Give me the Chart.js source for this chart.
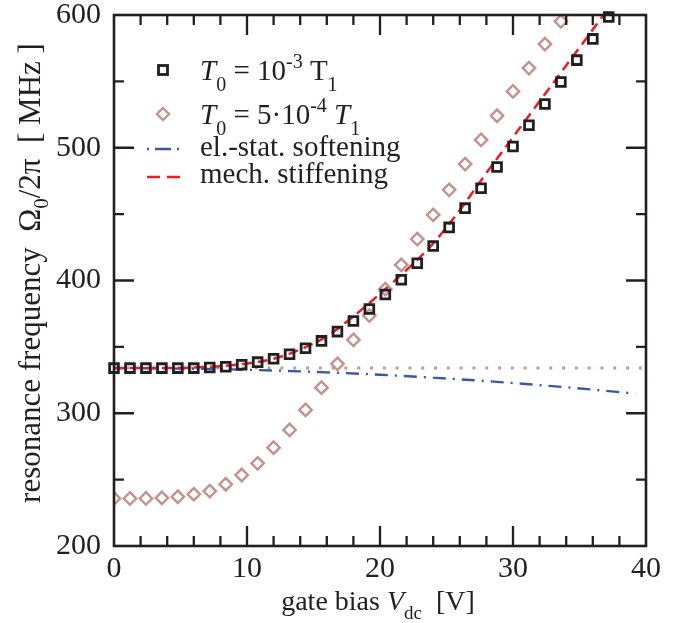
<!DOCTYPE html>
<html>
<head>
<meta charset="utf-8">
<script src="https://cdn.jsdelivr.net/npm/chart.js@4"></script>
<style>
  html, body { margin: 0; padding: 0; background: #fff; }
</style>
</head>
<body>
<canvas id="freqChart" width="677" height="623"></canvas>
<script>
// gate bias values (V) where the symbols were computed
var vdcPoints = [0, 1.2, 2.4, 3.6, 4.8, 6.0, 7.2, 8.4, 9.6, 10.8, 12.0, 13.2, 14.4, 15.6, 16.8, 18.0,
  19.2, 20.4, 21.6, 22.8, 24.0, 25.2, 26.4, 27.6, 28.8, 30.0, 31.2, 32.4, 33.6, 34.8, 36.0, 37.2];

// T0 = 1e-3 T1 (squares), MHz
var freqT1e3 = [334, 334, 334, 334, 334, 334, 334.5, 335, 336.5, 338.5, 341, 344.5, 349, 354.5, 361.5, 369.5,
  378.5, 389.5, 400.5, 413, 426, 440, 454.5, 469.5, 485.5, 501, 517, 533, 549.5, 566, 582, 598.5];

// T0 = 5e-4 T1 (diamonds), MHz
var freqT5e4 = [235.8, 235.8, 235.8, 236.3, 237.1, 239, 241.4, 246.5, 253.5, 262.3, 274.1, 287.4, 302.5, 319.3,
  337.2, 355.3, 373.6, 393.5, 411.8, 431.2, 449.5, 468.3, 487.7, 506, 524.1, 542.4, 560, 578.1, 595.2];

// dotted reference level
var flatV = [0, 40];
var flatF = [334, 334];

// el.-stat. softening
var softV = [0, 4, 8, 12, 16, 20, 24, 28, 32, 36, 39.2];
var softF = [334, 333.8, 333.2, 332.2, 330.8, 329, 326.8, 324.2, 321.2, 317.8, 314.8];

// mech. stiffening
var stiffV = [0, 2, 4, 6, 8, 10, 12, 14, 16, 18, 20, 22, 24, 26, 28, 30, 32, 34, 36, 36.8];
var stiffF = [334, 334, 334, 334.5, 335.5, 337.5, 341, 348, 358, 373, 390, 408, 428, 453, 481, 508, 535, 562, 589, 600];

var xTicks = [0, 10, 20, 30, 40];
var yTicks = [200, 300, 400, 500, 600];

var ink = "#231f20";
var rose = "#c4918d";
var serif = "'Liberation Serif', 'Times New Roman', serif";

function toXY(xs, ys) {
  return ys.map(function(y, i) { return { x: xs[i], y: y }; });
}

function drawRuns(ctx, x, y, runs) {
  runs.forEach(function(r) {
    ctx.font = (r.italic ? "italic " : "") + r.size + "px " + serif;
    ctx.fillText(r.text, x, y + (r.dy || 0));
    x += ctx.measureText(r.text).width;
  });
  return x;
}

function runsWidth(ctx, runs) {
  var w = 0;
  runs.forEach(function(r) {
    ctx.font = (r.italic ? "italic " : "") + r.size + "px " + serif;
    w += ctx.measureText(r.text).width;
  });
  return w;
}

// frame, inward ticks, axis titles and legend
var decorPlugin = {
  id: "decor",
  afterDraw: function(chart) {
    var ctx = chart.ctx;
    var a = chart.chartArea;
    var xs = chart.scales.x, ys = chart.scales.y;
    ctx.save();
    ctx.strokeStyle = ink;
    ctx.lineWidth = 2.6;
    ctx.strokeRect(a.left, a.top, a.right - a.left, a.bottom - a.top);

    ctx.lineWidth = 2.3;
    ctx.beginPath();
    for (var v = xs.min + 2; v < xs.max; v += 2) {
      var len = v % 10 === 0 ? 20 : 10;
      var px = xs.getPixelForValue(v);
      ctx.moveTo(px, a.bottom); ctx.lineTo(px, a.bottom - len);
      ctx.moveTo(px, a.top); ctx.lineTo(px, a.top + len);
    }
    for (var w = ys.min + 50; w < ys.max; w += 50) {
      var l2 = w % 100 === 0 ? 20 : 10;
      var py = ys.getPixelForValue(w);
      ctx.moveTo(a.left, py); ctx.lineTo(a.left + l2, py);
      ctx.moveTo(a.right, py); ctx.lineTo(a.right - l2, py);
    }
    ctx.stroke();

    ctx.fillStyle = ink;
    ctx.textBaseline = "alphabetic";
    ctx.textAlign = "left";

    // x title
    var xRuns = [
      { text: "gate bias ", size: 28 },
      { text: "V", size: 28, italic: true },
      { text: "dc", size: 19, dy: 9 },
      { text: "  [V]", size: 28 }
    ];
    drawRuns(ctx, 378 - runsWidth(ctx, xRuns) / 2, 610, xRuns);

    // y title
    var yRuns = [
      { text: "resonance frequency  ", size: 31 },
      { text: "\u03a9", size: 31 },
      { text: "0", size: 21, dy: 8 },
      { text: "/2\u03c0  [ MHz ]", size: 31 }
    ];
    ctx.save();
    ctx.translate(40, 273);
    ctx.rotate(-Math.PI / 2);
    drawRuns(ctx, -runsWidth(ctx, yRuns) / 2, 0, yRuns);
    ctx.restore();

    // legend
    ctx.lineWidth = 2.8;
    ctx.strokeStyle = ink;
    ctx.strokeRect(158.5, 65.5, 9, 9);
    ctx.strokeStyle = rose;
    ctx.lineWidth = 2.4;
    ctx.beginPath();
    ctx.moveTo(163, 108); ctx.lineTo(169, 114); ctx.lineTo(163, 120); ctx.lineTo(157, 114); ctx.closePath();
    ctx.stroke();

    ctx.lineWidth = 2.5;
    ctx.strokeStyle = "#3b58a6";
    ctx.setLineDash([2, 6, 16, 6, 2, 50]);
    ctx.beginPath(); ctx.moveTo(147, 149); ctx.lineTo(181, 149); ctx.stroke();
    ctx.strokeStyle = "#ed1c24";
    ctx.setLineDash([13, 7, 13, 50]);
    ctx.beginPath(); ctx.moveTo(147, 177); ctx.lineTo(181, 177); ctx.stroke();
    ctx.setLineDash([]);

    drawRuns(ctx, 200, 80, [
      { text: "T", size: 29, italic: true },
      { text: "0", size: 20, dy: 11 },
      { text: " = 10", size: 29 },
      { text: "-3", size: 20, dy: -12 },
      { text: " T", size: 29 },
      { text: "1", size: 20, dy: 11 }
    ]);
    drawRuns(ctx, 200, 124, [
      { text: "T", size: 29, italic: true },
      { text: "0", size: 20, dy: 11 },
      { text: " = 5\u00b710", size: 29 },
      { text: "-4", size: 20, dy: -12 },
      { text: " ", size: 29 },
      { text: "T", size: 29, italic: true },
      { text: "1", size: 20, dy: 11 }
    ]);
    drawRuns(ctx, 200, 156, [{ text: "el.-stat. softening", size: 29 }]);
    drawRuns(ctx, 200, 183, [{ text: "mech. stiffening", size: 29 }]);
    ctx.restore();
  }
};

var ctx = document.getElementById("freqChart").getContext("2d");

var freqChart = new Chart(ctx, {
  type: "scatter",
  data: {
    datasets: [
      {
        label: "T0 = 1e-3 T1",
        data: toXY(vdcPoints, freqT1e3),
        pointStyle: "rect",
        pointRadius: 6.2,
        borderColor: ink,
        borderWidth: 2.8,
        backgroundColor: "rgba(0,0,0,0)",
        clip: false,
        order: 1
      },
      {
        label: "T0 = 5e-4 T1",
        data: toXY(vdcPoints, freqT5e4),
        pointStyle: "rectRot",
        pointRadius: 6.2,
        borderColor: rose,
        borderWidth: 2.4,
        backgroundColor: "rgba(0,0,0,0)",
        order: 2
      },
      {
        label: "flat",
        data: toXY(flatV, flatF),
        showLine: true,
        pointRadius: 0,
        borderColor: "#c49a98",
        borderWidth: 3,
        borderDash: [3, 9.8],
        borderCapStyle: "butt",
        order: 5
      },
      {
        label: "el.-stat. softening",
        data: toXY(softV, softF),
        showLine: true,
        pointRadius: 0,
        borderColor: "#3b58a6",
        borderWidth: 2.4,
        borderDash: [13, 7, 2, 7],
        cubicInterpolationMode: "monotone",
        order: 4
      },
      {
        label: "mech. stiffening",
        data: toXY(stiffV, stiffF),
        showLine: true,
        pointRadius: 0,
        borderColor: "#ed1c24",
        borderWidth: 2.5,
        borderDash: [10, 6],
        cubicInterpolationMode: "monotone",
        order: 3
      }
    ]
  },
  options: {
    responsive: false,
    animation: false,
    layout: { padding: { top: 15, right: 31, left: 0, bottom: 0 } },
    plugins: {
      legend: { display: false },
      tooltip: { enabled: false }
    },
    scales: {
      x: {
        type: "linear",
        min: 0,
        max: 40,
        afterBuildTicks: function(scale) {
          scale.ticks = xTicks.map(function(v) { return { value: v }; });
        },
        afterFit: function(scale) {
          scale.height = 77;
          scale.paddingLeft = 0; scale.paddingRight = 0;
        },
        grid: { display: false, drawTicks: false },
        border: { display: false },
        ticks: { color: ink, padding: 5, maxRotation: 0, font: { family: serif, size: 30 } }
      },
      y: {
        type: "linear",
        min: 200,
        max: 600,
        afterBuildTicks: function(scale) {
          scale.ticks = yTicks.map(function(v) { return { value: v }; });
        },
        afterFit: function(scale) {
          scale.width = 114;
          scale.paddingTop = 0; scale.paddingBottom = 0;
        },
        grid: { display: false, drawTicks: false },
        border: { display: false },
        ticks: { color: ink, padding: 13, font: { family: serif, size: 30 } }
      }
    }
  },
  plugins: [decorPlugin]
});
</script>
</body>
</html>
